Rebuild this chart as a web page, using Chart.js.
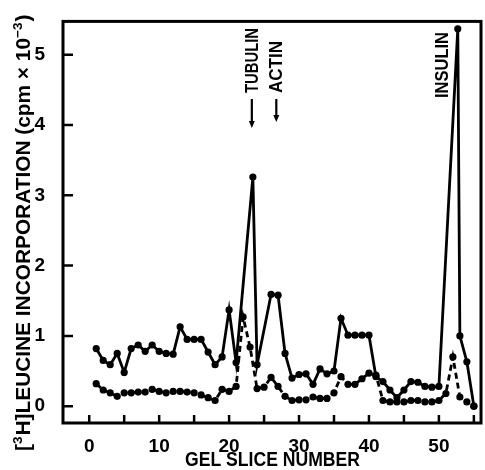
<!DOCTYPE html>
<html lang="en">
  <head>
    <meta charset="UTF-8" />
    <title>[3H]Leucine incorporation by gel slice</title>
    <script src="https://cdn.jsdelivr.net/npm/chart.js@4"></script>
    <style>
      html,
      body {
        margin: 0;
        padding: 0;
        background: #fff;
      }
    </style>
  </head>

  <body>
    <canvas id="gelChart" width="485" height="470"></canvas>

    <script>
      // solid curve (upper)
      const solidSlices = [
        1, 2, 3, 4, 5, 6, 7, 8, 9, 10, 11, 12, 13, 14, 15, 16, 17, 18, 19, 20,
        21, 23.4, 24, 26, 27, 28, 29, 30, 31, 32, 33, 34, 35, 36, 37, 38, 39,
        40, 41, 42, 43, 44, 45, 46, 47, 48, 49, 50, 52.7, 53, 54, 55,
      ];
      const solidCpm = [
        0.82, 0.65, 0.59, 0.75, 0.48, 0.82, 0.87, 0.78, 0.87, 0.78, 0.75, 0.74,
        1.13, 0.95, 0.95, 0.95, 0.77, 0.59, 0.7, 1.37, 0.62, 3.26, 0.59, 1.59,
        1.58, 0.75, 0.4, 0.45, 0.46, 0.31, 0.53, 0.46, 0.5, 1.25, 1.01, 1.01,
        1.01, 1.01, 0.42, 0.35, 0.23, 0.12, 0.23, 0.35, 0.34, 0.28, 0.27, 0.28,
        5.37, 1.0, 0.63, 0.0,
      ];

      // dashed curve (lower)
      const dashedSlices = [
        1, 2, 3, 4, 5, 6, 7, 8, 9, 10, 11, 12, 13, 14, 15, 16, 17, 18, 19, 20,
        21, 22, 23, 24, 25, 26, 27, 28, 29, 30, 31, 32, 33, 34, 35, 36, 37, 38,
        39, 40, 41, 42, 43, 44, 45, 46, 47, 48, 49, 50, 51, 52, 53, 54, 55,
      ];
      const dashedCpm = [
        0.32, 0.23, 0.19, 0.14, 0.19, 0.19, 0.2, 0.2, 0.24, 0.21, 0.19, 0.21,
        0.21, 0.2, 0.19, 0.16, 0.12, 0.08, 0.24, 0.21, 0.28, 1.27, 0.84, 0.25,
        0.27, 0.41, 0.28, 0.14, 0.08, 0.09, 0.09, 0.13, 0.11, 0.11, 0.19, 0.42,
        0.31, 0.31, 0.39, 0.47, 0.44, 0.08, 0.06, 0.06, 0.06, 0.08, 0.08, 0.06,
        0.06, 0.08, 0.18, 0.7, 0.13, 0.06, 0.0,
      ];

      const xTickMarks = [0, 5, 10, 15, 20, 25, 30, 35, 40, 45, 50, 55];
      const xTickLabels = [0, 10, 20, 30, 40, 50];
      const yTickLabels = [0, 1, 2, 3, 4, 5];

      // protein markers: name, slice position, arrow or not
      const markerNames = ["TUBULIN", "ACTIN", "INSULIN"];
      const markerSlices = [23.25, 26.75, 50.45];
      const markerArrows = [true, true, false];
      const markerLengths = [65, 52, 66];

      const FONT = "'Liberation Sans', Arial, sans-serif";

      const toPoints = (xs, ys) => xs.map((x, i) => ({ x: x, y: ys[i] }));

      // draws text squeezed horizontally to a given length (narrow face look)
      function fitText(ctx, txt, x, y, len) {
        const w = ctx.measureText(txt).width;
        ctx.save();
        ctx.translate(x, y);
        ctx.scale(len / w, 1);
        ctx.fillText(txt, 0, 0);
        ctx.restore();
      }

      const figureDecor = {
        id: "figureDecor",
        afterDraw(chart) {
          const { ctx, chartArea: a, scales } = chart;
          const xs = scales.x;
          const ys = scales.y;
          ctx.save();
          ctx.strokeStyle = "#000";
          ctx.fillStyle = "#000";

          // frame
          ctx.lineWidth = 3;
          ctx.strokeRect(a.left, a.top, a.right - a.left, a.bottom - a.top);

          // inward tick marks
          ctx.lineWidth = 2.5;
          ctx.beginPath();
          xs.ticks.forEach((t) => {
            const px = xs.getPixelForValue(t.value);
            ctx.moveTo(px, a.bottom);
            ctx.lineTo(px, a.bottom - 8);
          });
          ys.ticks.forEach((t) => {
            const py = ys.getPixelForValue(t.value);
            ctx.moveTo(a.left, py);
            ctx.lineTo(a.left + 10, py);
          });
          ctx.stroke();

          // x title
          ctx.font = "bold 20px " + FONT;
          ctx.textAlign = "left";
          ctx.textBaseline = "alphabetic";
          fitText(ctx, "GEL SLICE NUMBER", 185, 466, 175);

          // y title, rotated, with superscripts
          ctx.save();
          ctx.translate(30, 451);
          ctx.rotate(-Math.PI / 2);
          const parts = [
            ["[", false],
            ["3", true],
            ["H]LEUCINE INCORPORATION (cpm × 10", false],
            ["−3", true],
            [")", false],
          ];
          let natural = 0;
          parts.slice(0, 3).forEach(([txt, sup]) => {
            ctx.font = sup ? "bold 13px " + FONT : "bold 20px " + FONT;
            natural += ctx.measureText(txt).width + (sup ? 1 : 0);
          });
          ctx.scale(413 / natural, 1);
          let cx = 0;
          parts.forEach(([txt, sup]) => {
            ctx.font = sup ? "bold 13px " + FONT : "bold 20px " + FONT;
            ctx.fillText(txt, cx, sup ? -8 : 0);
            cx += ctx.measureText(txt).width + (sup ? 1 : 0);
          });
          ctx.restore();

          // markers
          ctx.font = "bold 18px " + FONT;
          markerNames.forEach((name, i) => {
            const px = xs.getPixelForValue(markerSlices[i]);
            const bottom = markerArrows[i] ? 93 : 98;
            ctx.save();
            ctx.translate(px, bottom);
            ctx.rotate(-Math.PI / 2);
            ctx.textBaseline = "middle";
            fitText(ctx, name, 0, 1, markerLengths[i]);
            ctx.restore();
            if (markerArrows[i]) {
              const tip = i === 0 ? 128 : 122;
              ctx.lineWidth = 2.2;
              ctx.beginPath();
              ctx.moveTo(px, 99);
              ctx.lineTo(px, tip - 5);
              ctx.stroke();
              ctx.beginPath();
              ctx.moveTo(px - 3, tip - 7);
              ctx.lineTo(px + 3, tip - 7);
              ctx.lineTo(px, tip);
              ctx.closePath();
              ctx.fill();
            }
          });

          ctx.restore();
        },
      };

      new Chart(document.getElementById("gelChart"), {
        type: "line",
        data: {
          datasets: [
            {
              label: "solid",
              data: toPoints(solidSlices, solidCpm),
              borderColor: "#000",
              backgroundColor: "#000",
              borderWidth: 2.8,
              pointRadius: 3.6,
              pointBorderWidth: 0,
              pointBackgroundColor: "#000",
              tension: 0,
              clip: false,
            },
            {
              label: "dashed",
              data: toPoints(dashedSlices, dashedCpm),
              borderColor: "#000",
              backgroundColor: "#000",
              borderWidth: 2.8,
              borderDash: [6, 4],
              pointRadius: 3.6,
              pointBorderWidth: 0,
              pointBackgroundColor: "#000",
              tension: 0,
              clip: false,
            },
          ],
        },
        options: {
          responsive: false,
          animation: false,
          devicePixelRatio: 1,
          layout: { padding: { top: 18, right: 2, left: 0, bottom: 0 } },
          plugins: {
            legend: { display: false },
            tooltip: { enabled: false },
          },
          scales: {
            x: {
              type: "linear",
              min: -3.75,
              max: 56.02,
              grid: { display: false },
              border: { display: false },
              afterBuildTicks: (s) => {
                s.ticks = xTickMarks.map((v) => ({ value: v }));
              },
              afterFit: (s) => {
                s.height = 47;
              },
              ticks: {
                autoSkip: false,
                maxRotation: 0,
                padding: 4,
                color: "#000",
                font: { family: FONT, size: 19, weight: "bold" },
                callback: (v) => (xTickLabels.includes(v) ? String(v) : ""),
              },
            },
            y: {
              type: "linear",
              min: -0.24,
              max: 5.476,
              grid: { display: false },
              border: { display: false },
              afterBuildTicks: (s) => {
                s.ticks = yTickLabels.map((v) => ({ value: v }));
              },
              afterFit: (s) => {
                s.width = 63;
              },
              ticks: {
                padding: 10,
                color: "#000",
                font: { family: FONT, size: 19, weight: "bold" },
                callback: (v) => String(v),
              },
            },
          },
        },
        plugins: [figureDecor],
      });
    </script>
  </body>
</html>
